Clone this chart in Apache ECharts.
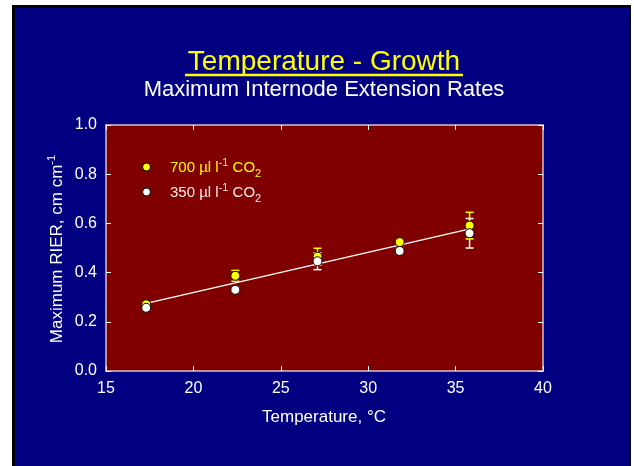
<!DOCTYPE html>
<html>
<head>
<meta charset="utf-8">
<script src="https://cdn.jsdelivr.net/npm/echarts@6/dist/echarts.min.js"></script>
<style>
  html, body { margin: 0; padding: 0; background: #ffffff; }
  #frame { position: absolute; left: 12px; top: 5px; width: 614px; height: 470px;
           background: #000080; border-left: 3px solid #000; border-top: 3px solid #000; border-right: 2px solid #000; }
  #chart { position: absolute; left: 0; top: 0; width: 634px; height: 466px; }
</style>
</head>
<body>
<div id="frame"></div>
<div id="chart"></div>
<script>
// ---- data ----
const temps   = [17.3, 22.4, 27.1, 31.8, 35.8];
const rier700 = [0.271, 0.387, 0.465, 0.524, 0.591];
const err700  = [0.01, 0.022, 0.034, 0.01, 0.054];
const rier350 = [0.257, 0.330, 0.446, 0.488, 0.560];
const err350  = [0.01, 0.01, 0.034, 0.01, 0.060];
const fitX    = [17.3, 35.7];
const fitY    = [0.275, 0.576];
const xTickLabels = ['15', '20', '25', '30', '35', '40'];
const yTickLabels = ['0.0', '0.2', '0.4', '0.6', '0.8', '1.0'];
const legendLabels = ['700', '350'];

const FONT = "'Liberation Sans', Arial, sans-serif";
const frameColor = '#d4c4cc';

const chart = echarts.init(document.getElementById('chart'), null, { renderer: 'canvas' });

function errData(vals, errs) {
  return temps.map((t, i) => [t, vals[i] - errs[i], vals[i] + errs[i]]);
}
function errRender(color) {
  return function (params, api) {
    const x = api.value(0);
    const lo = api.coord([x, api.value(1)]);
    const hi = api.coord([x, api.value(2)]);
    const w = 4;
    const st = { stroke: color, lineWidth: 1.5 };
    return {
      type: 'group',
      children: [
        { type: 'line', shape: { x1: lo[0], y1: lo[1], x2: hi[0], y2: hi[1] }, style: st },
        { type: 'line', shape: { x1: lo[0] - w, y1: lo[1], x2: lo[0] + w, y2: lo[1] }, style: st },
        { type: 'line', shape: { x1: hi[0] - w, y1: hi[1], x2: hi[0] + w, y2: hi[1] }, style: st }
      ]
    };
  };
}

const baseX = {
  type: 'value', min: 15, max: 40, interval: 5,
  axisLine: { show: true, onZero: false, lineStyle: { color: frameColor, width: 1.5 } },
  axisTick: { show: true, inside: true, length: 5, lineStyle: { color: '#ffffff', width: 1 } },
  splitLine: { show: false }
};
const baseY = {
  type: 'value', min: 0, max: 1, interval: 0.2,
  axisLine: { show: true, onZero: false, lineStyle: { color: frameColor, width: 1.5 } },
  axisTick: { show: true, inside: true, length: 5, lineStyle: { color: '#ffffff', width: 1 } },
  splitLine: { show: false }
};

const supRich = {
  a: { fontSize: 17, fontFamily: FONT, fill: '#ffffff', lineHeight: 22 },
  s: { fontSize: 11, fontFamily: FONT, fill: '#ffffff', verticalAlign: 'top', lineHeight: 22 }
};
function legendRich(color) {
  return {
    a: { fontSize: 15, fontFamily: FONT, fill: color, lineHeight: 22, verticalAlign: 'middle' },
    s: { fontSize: 11, fontFamily: FONT, fill: color, lineHeight: 22, verticalAlign: 'top' },
    b: { fontSize: 11, fontFamily: FONT, fill: color, lineHeight: 22, verticalAlign: 'bottom' }
  };
}

const option = {
  backgroundColor: 'transparent',
  animation: false,
  grid: { left: 106, right: 91, top: 125, bottom: 95, show: true, backgroundColor: '#800000', borderWidth: 0 },
  xAxis: [
    Object.assign({}, baseX, { position: 'bottom',
      axisLabel: { color: '#ffffff', fontSize: 16, fontFamily: FONT, margin: 10,
        formatter: (v) => xTickLabels[Math.round((v - 15) / 5)] } }),
    Object.assign({}, baseX, { position: 'top', axisLabel: { show: false } })
  ],
  yAxis: [
    Object.assign({}, baseY, { position: 'left',
      axisLabel: { color: '#ffffff', fontSize: 16, fontFamily: FONT, margin: 9,
        formatter: (v) => yTickLabels[Math.round(v / 0.2)] } }),
    Object.assign({}, baseY, { position: 'right', axisLabel: { show: false } })
  ],
  series: [
    { type: 'line', data: fitX.map((x, i) => [x, fitY[i]]), symbol: 'none',
      lineStyle: { color: '#ffffff', width: 1.3 }, z: 2 },
    { type: 'custom', data: errData(rier350, err350), renderItem: errRender('#ffffff'), z: 3 },
    { type: 'custom', data: errData(rier700, err700), renderItem: errRender('#ffff00'), z: 3 },
    { type: 'scatter', data: temps.map((t, i) => [t, rier700[i]]), symbol: 'circle', symbolSize: 9,
      itemStyle: { color: '#ffff00', borderColor: '#000000', borderWidth: 1, opacity: 1 }, z: 4 },
    { type: 'scatter', data: temps.map((t, i) => [t, rier350[i]]), symbol: 'circle', symbolSize: 9,
      itemStyle: { color: '#ffffff', borderColor: '#000000', borderWidth: 1, opacity: 1 }, z: 5 }
  ],
  graphic: [
    { type: 'text', x: 324, y: 62, style: { text: 'Temperature - Growth', fill: '#ffff00', fontSize: 28,
        fontFamily: FONT, align: 'center', verticalAlign: 'middle' } },
    { type: 'line', shape: { x1: 185, y1: 75, x2: 463, y2: 75 }, style: { stroke: '#ffff00', lineWidth: 2.5 } },
    { type: 'text', x: 324, y: 90, style: { text: 'Maximum Internode Extension Rates', fill: '#ffffff', fontSize: 22,
        fontFamily: FONT, align: 'center', verticalAlign: 'middle' } },
    { type: 'text', x: 324, y: 417, style: { text: 'Temperature, °C', fill: '#ffffff', fontSize: 17,
        fontFamily: FONT, align: 'center', verticalAlign: 'middle' } },
    { type: 'text', x: 57, y: 249, rotation: Math.PI / 2, style: { text: '{a|Maximum RIER, cm cm}{s|-1}', rich: supRich,
        align: 'center', verticalAlign: 'middle' } },
    { type: 'circle', shape: { cx: 146.5, cy: 167, r: 4 }, style: { fill: '#ffff00', stroke: '#000', lineWidth: 1 } },
    { type: 'text', x: 170, y: 168, style: { text: '{a|' + legendLabels[0] + ' µl l}{s|-1}{a| CO}{b|2}', rich: legendRich('#ffff00'),
        align: 'left', verticalAlign: 'middle' } },
    { type: 'circle', shape: { cx: 146.5, cy: 192, r: 4 }, style: { fill: '#ffffff', stroke: '#000', lineWidth: 1 } },
    { type: 'text', x: 170, y: 193, style: { text: '{a|' + legendLabels[1] + ' µl l}{s|-1}{a| CO}{b|2}', rich: legendRich('#f4ecec'),
        align: 'left', verticalAlign: 'middle' } }
  ]
};
chart.setOption(option);
</script>
</body>
</html>
